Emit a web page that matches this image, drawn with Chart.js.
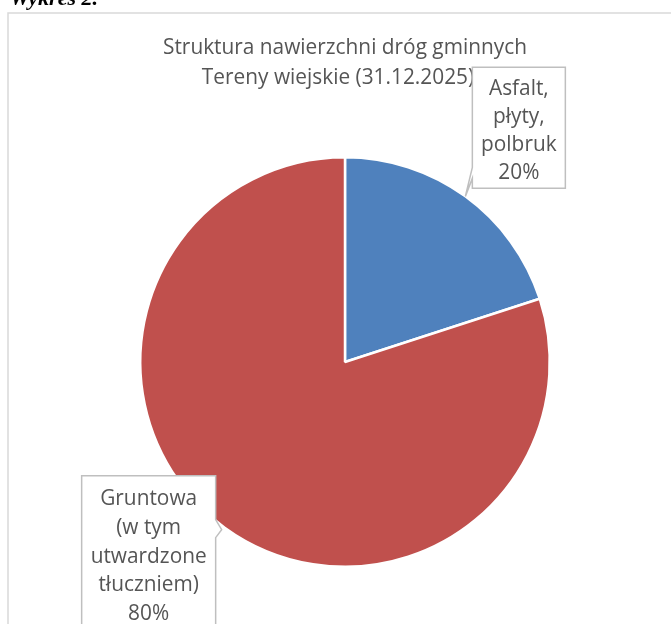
<!DOCTYPE html>
<html>
<head>
<meta charset="utf-8">
<script src="https://cdn.jsdelivr.net/npm/chart.js@4"></script>
<style>
html,body{margin:0;padding:0;background:#fff;}
#wrap{position:relative;width:671px;height:624px;}
</style>
</head>
<body>
<div id="wrap"><canvas id="c" width="671" height="624"></canvas></div>
<script>
// ---- data ----
const categories = ["Asfalt, płyty, polbruk", "Gruntowa (w tym utwardzone tłuczniem)"];
const labelLines = [["Asfalt,", "płyty,", "polbruk"], ["Gruntowa", "(w tym", "utwardzone", "tłuczniem)"]];
const values = [20, 80];
const colors = ["#4F81BD", "#C0504D"];
const titleLines = ["Struktura nawierzchni dróg gminnych", "Tereny wiejskie (31.12.2025)"];
const captionText = "Wykres 2.";

const FONT = "22px 'Open Sans', Lato, sans-serif";
const TEXT = "#555555";
let sx = 0.9;

function txt(ctx, t, x, y) {
  ctx.save();
  ctx.translate(x, y);
  ctx.scale(sx, 1);
  ctx.fillText(t, 0, 0);
  ctx.restore();
}

const decor = {
  id: "decor",
  beforeDraw(chart) {
    const ctx = chart.ctx;
    ctx.save();
    ctx.font = FONT;
    sx = 364 / ctx.measureText(titleLines[0]).width;
    ctx.fillStyle = "#fff";
    ctx.fillRect(0, 0, chart.width, chart.height);
    // caption (cut at top)
    ctx.fillStyle = "#000";
    ctx.font = "bold italic 22px 'Liberation Serif', serif";
    ctx.textBaseline = "alphabetic";
    ctx.textAlign = "left";
    ctx.fillText(captionText, 10, 5);
    // chart border
    ctx.strokeStyle = "#d9d9d9";
    ctx.lineWidth = 1.5;
    ctx.strokeRect(8, 13, 800, 800);
    // title
    ctx.fillStyle = TEXT;
    ctx.font = FONT;
    ctx.textAlign = "center";
    ctx.textBaseline = "middle";
    txt(ctx, titleLines[0], 345, 48);
    txt(ctx, titleLines[1], 338, 78);
    ctx.restore();
  },
  afterDraw(chart) {
    const ctx = chart.ctx;
    const meta = chart.getDatasetMeta(0);
    const total = values.reduce((a, b) => a + b, 0);
    ctx.save();
    ctx.font = FONT;
    ctx.textAlign = "center";
    ctx.textBaseline = "middle";
    meta.data.forEach((arc, i) => {
      const mid = (arc.startAngle + arc.endAngle) / 2;
      const r = arc.outerRadius;
      const ex = arc.x + Math.cos(mid) * r;
      const ey = arc.y + Math.sin(mid) * r;
      const pct = Math.round(values[i] / total * 100) + "%";
      const lines = labelLines[i].concat([pct]);
      let bx, by, bw, bh, tail, y0, lh;
      if (i === 0) {
        bx = ex + 7; by = ey - 129; bw = 93; bh = 121;
        tail = [[bx, by + 100], [ex, ey], [bx, by + 111]];
        y0 = by + 21; lh = 28;
      } else {
        bw = 134; bh = 170; bx = ex - 9 - bw; by = ey - 52;
        tail = [[bx + bw, by + 44], [ex - 3, ey + 2], [bx + bw, by + 62]];
        y0 = by + 23; lh = 28.8;
      }
      // box
      ctx.beginPath();
      if (i === 0) {
        ctx.moveTo(bx, by);
        ctx.lineTo(bx + bw, by);
        ctx.lineTo(bx + bw, by + bh);
        ctx.lineTo(bx, by + bh);
        ctx.lineTo(tail[2][0], tail[2][1]);
        ctx.lineTo(tail[1][0], tail[1][1]);
        ctx.lineTo(tail[0][0], tail[0][1]);
        ctx.closePath();
      } else {
        ctx.moveTo(bx, by);
        ctx.lineTo(bx + bw, by);
        ctx.lineTo(tail[0][0], tail[0][1]);
        ctx.lineTo(tail[1][0], tail[1][1]);
        ctx.lineTo(tail[2][0], tail[2][1]);
        ctx.lineTo(bx + bw, by + bh);
        ctx.lineTo(bx, by + bh);
        ctx.closePath();
      }
      ctx.fillStyle = "#fff";
      ctx.fill();
      ctx.strokeStyle = "#bfbfbf";
      ctx.lineWidth = 1.5;
      ctx.stroke();
      // text
      ctx.fillStyle = TEXT;
      const cx = bx + bw / 2;
      lines.forEach((t, k) => txt(ctx, t, cx, y0 + k * lh));
    });
    ctx.restore();
  }
};

new Chart(document.getElementById("c"), {
  type: "pie",
  data: {
    labels: categories,
    datasets: [{
      data: values,
      backgroundColor: colors,
      borderColor: "#ffffff",
      borderWidth: 2.5
    }]
  },
  options: {
    responsive: false,
    animation: false,
    layout: { padding: { left: 139, right: 120, top: 156, bottom: 56 } },
    plugins: {
      legend: { display: false },
      tooltip: { enabled: false },
      title: { display: false }
    }
  },
  plugins: [decor]
});
</script>
</body>
</html>
